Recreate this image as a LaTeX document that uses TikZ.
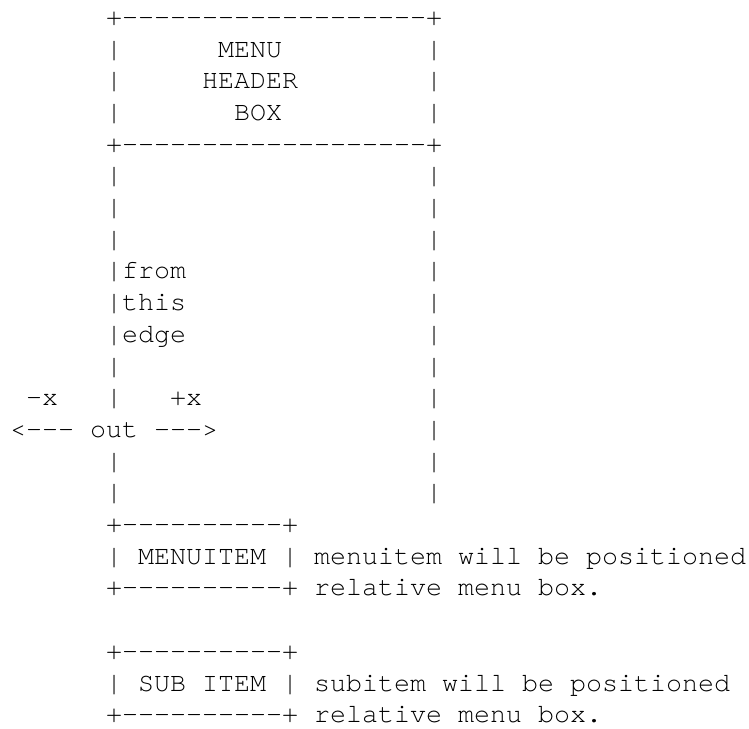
\documentclass[tikz,border=0pt]{standalone}
\usepackage{fontspec}
\setmonofont{texgyrecursor-regular.otf}
\begin{document}
\begin{tikzpicture}[x=1pt,y=-1pt,
  asc/.style={anchor=base west, inner sep=0pt, outer sep=0pt, text=black,
    font=\ttfamily\fontsize{26.67pt}{31.7pt}\selectfont}]
\useasboundingbox (0,0) rectangle (749,728);
% column c -> x = -6 + 16c ; row r -> baseline y = 25.3 + 31.7(r-1)
\def\cx#1{\fpeval{-6+16*(#1)}}
\def\ry#1{\fpeval{25.3+31.7*((#1)-1)}}
% header box
\node[asc] (top)   at (\cx{7},\ry{1}) {+-------------------+};
\node[asc] (l2)    at (\cx{7},\ry{2}) {|};
\node[asc] (menu)  at (\cx{14},\ry{2}) {MENU};
\node[asc] (r2)    at (\cx{27},\ry{2}) {|};
\node[asc] (l3)    at (\cx{7},\ry{3}) {|};
\node[asc] (head)  at (\cx{13},\ry{3}) {HEADER};
\node[asc] (r3)    at (\cx{27},\ry{3}) {|};
\node[asc] (l4)    at (\cx{7},\ry{4}) {|};
\node[asc] (box)   at (\cx{15},\ry{4}) {BOX};
\node[asc] (r4)    at (\cx{27},\ry{4}) {|};
\node[asc] (bot)   at (\cx{7},\ry{5}) {+-------------------+};
% menu body
\foreach \r in {6,7,8,12,15,16} {
  \node[asc] (bl\r) at (\cx{7},\ry{\r}) {|};
}
\foreach \r in {6,7,8,9,10,11,12,13,14,15,16} {
  \node[asc] (br\r) at (\cx{27},\ry{\r}) {|};
}
\node[asc] (from) at (\cx{7},\ry{9})  {|from};
\node[asc] (this) at (\cx{7},\ry{10}) {|this};
\node[asc] (edge) at (\cx{7},\ry{11}) {|edge};
\node[asc] (mx)   at (\cx{2},\ry{13}) {-x};
\node[asc] (bl13) at (\cx{7},\ry{13}) {|};
\node[asc] (px)   at (\cx{11},\ry{13}) {+x};
\node[asc] (la)   at (\cx{1},\ry{14}) {<---};
\node[asc] (out)  at (\cx{6},\ry{14}) {out};
\node[asc] (ra)   at (\cx{10},\ry{14}) {--->};
% menu item
\node[asc] (mt)  at (\cx{7},\ry{17}) {+----------+};
\node[asc] (mi)  at (\cx{7},\ry{18}) {| MENUITEM |};
\node[asc] (mit) at (\cx{20},\ry{18}) {menuitem will be positioned};
\node[asc] (mb)  at (\cx{7},\ry{19}) {+----------+};
\node[asc] (mbt) at (\cx{20},\ry{19}) {relative menu box.};
% sub item
\node[asc] (st)  at (\cx{7},\ry{21}) {+----------+};
\node[asc] (si)  at (\cx{7},\ry{22}) {| SUB ITEM |};
\node[asc] (sit) at (\cx{20},\ry{22}) {subitem will be positioned};
\node[asc] (sb)  at (\cx{7},\ry{23}) {+----------+};
\node[asc] (sbt) at (\cx{20},\ry{23}) {relative menu box.};
\end{tikzpicture}
\end{document}
